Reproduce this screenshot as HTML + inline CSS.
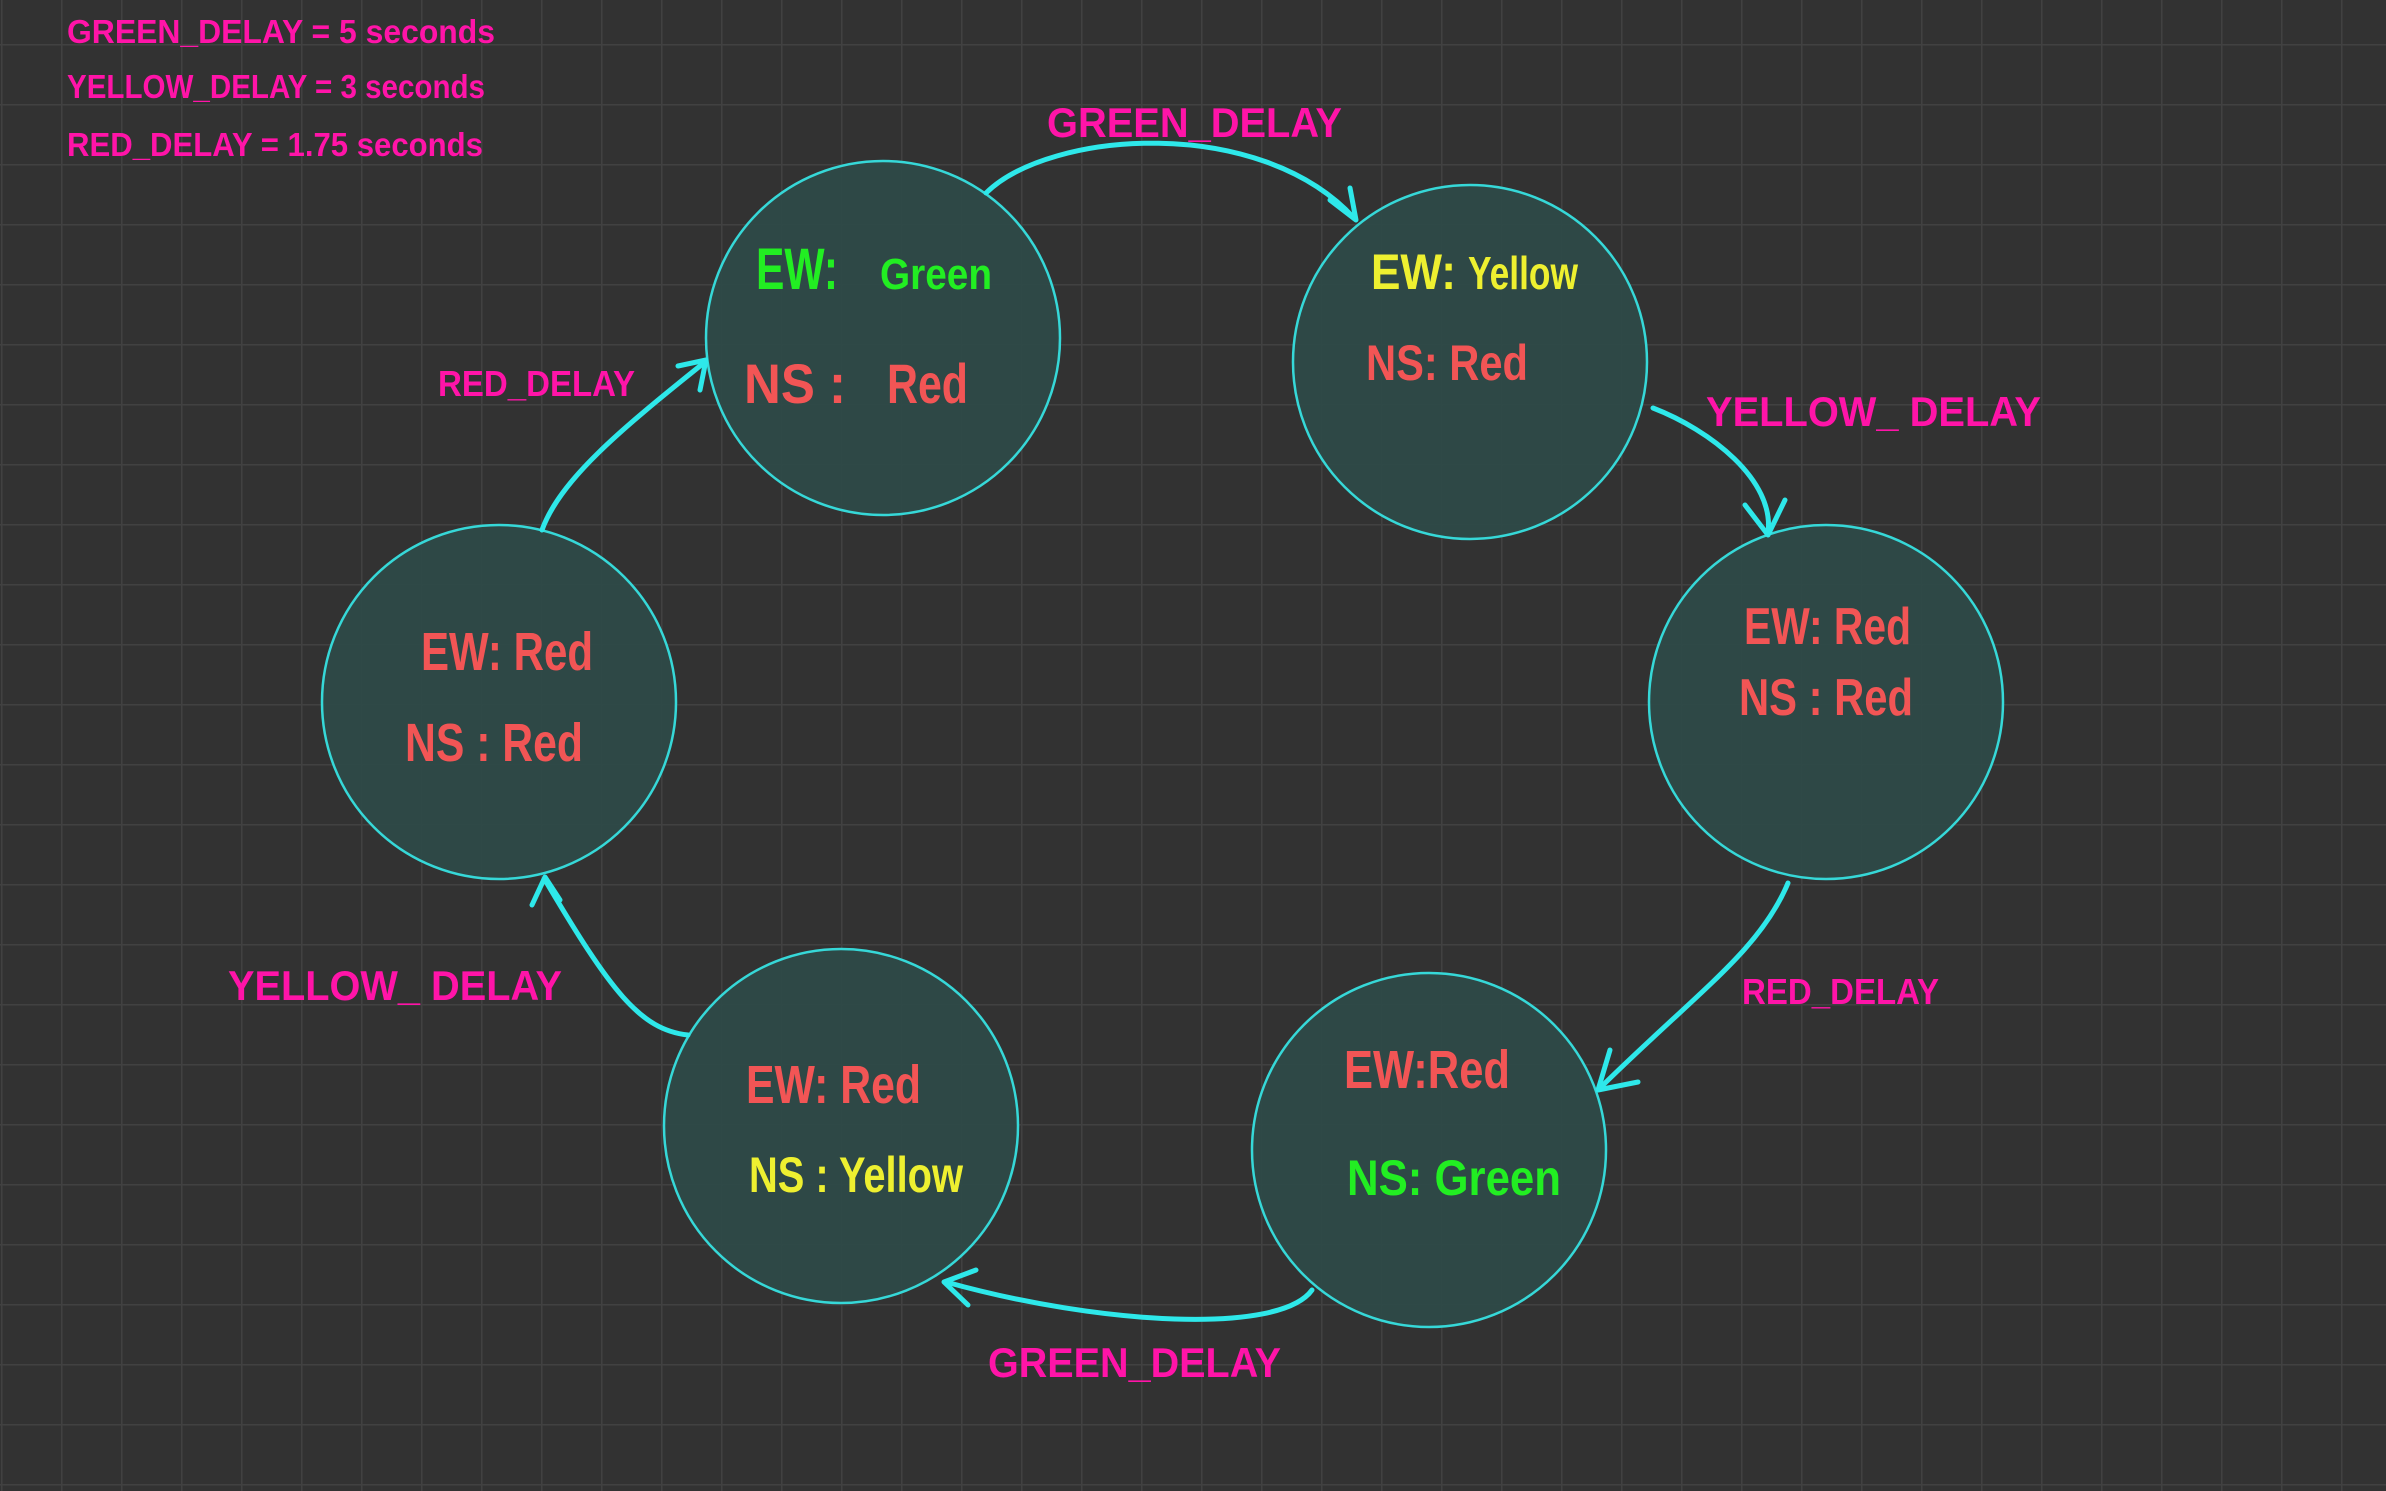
<!DOCTYPE html>
<html><head><meta charset="utf-8"><style>
html,body{margin:0;padding:0;background:#323232;}
svg{display:block;}
text{font-family:"Liberation Sans",sans-serif;font-weight:bold;}
</style></head><body>
<svg width="2386" height="1491" viewBox="0 0 2386 1491" xmlns="http://www.w3.org/2000/svg">
<defs>
<pattern id="g" x="1" y="44" width="60" height="60" patternUnits="userSpaceOnUse">
<path d="M0 0H60M0 0V60" stroke="#414141" stroke-width="3" fill="none"/>
</pattern>
</defs>
<rect width="2386" height="1491" fill="#323232"/>
<rect width="2386" height="1491" fill="url(#g)"/>

<g fill="#ff14a8" font-size="33">
<text x="67" y="43" textLength="428" lengthAdjust="spacingAndGlyphs">GREEN_DELAY  =  5  seconds</text>
<text x="67" y="98" textLength="418" lengthAdjust="spacingAndGlyphs">YELLOW_DELAY  =  3  seconds</text>
<text x="67" y="156" textLength="416" lengthAdjust="spacingAndGlyphs">RED_DELAY  =  1.75  seconds</text>
</g>

<g fill="#2e4a48" fill-opacity="0.9" stroke="#36d8d8" stroke-width="2.5">
<circle cx="883" cy="338" r="177"/>
<circle cx="1470" cy="362" r="177"/>
<circle cx="1826" cy="702" r="177"/>
<circle cx="1429" cy="1150" r="177"/>
<circle cx="841" cy="1126" r="177"/>
<circle cx="499" cy="702" r="177"/>
</g>

<g fill="none" stroke="#2ee8ea" stroke-width="5" stroke-linecap="round" stroke-linejoin="round">
<path d="M986 193 C1050 130 1260 115 1354 218"/>
<path d="M1330 200 L1356 220 L1350 188"/>
<path d="M1653 408 C1710 430 1775 480 1768 533"/>
<path d="M1745 505 L1768 535 L1785 500"/>
<path d="M1788 883 C1760 950 1700 990 1601 1087"/>
<path d="M1610 1050 L1598 1090 L1638 1082"/>
<path d="M1312 1290 C1280 1335 1100 1325 946 1282"/>
<path d="M968 1305 L944 1282 L976 1270"/>
<path d="M688 1035 C640 1030 610 990 545 880"/>
<path d="M532 905 L545 877 L560 900"/>
<path d="M542 530 C560 480 620 430 705 362"/>
<path d="M678 366 L706 360 L700 390"/>
</g>

<g fill="#ff14a8" font-size="42" font-weight="normal">
<text x="1047" y="137" textLength="295" lengthAdjust="spacingAndGlyphs">GREEN_DELAY</text>
<text x="1706" y="426" textLength="335" lengthAdjust="spacingAndGlyphs">YELLOW_ DELAY</text>
<text x="438" y="396" font-size="36" textLength="197" lengthAdjust="spacingAndGlyphs">RED_DELAY</text>
<text x="1742" y="1004" font-size="36" textLength="197" lengthAdjust="spacingAndGlyphs">RED_DELAY</text>
<text x="228" y="1000" textLength="334" lengthAdjust="spacingAndGlyphs">YELLOW_ DELAY</text>
<text x="988" y="1377" textLength="293" lengthAdjust="spacingAndGlyphs">GREEN_DELAY</text>
</g>

<g font-weight="normal">
<!-- C1 -->
<text x="756" y="289" font-size="58" fill="#22ee22" textLength="82" lengthAdjust="spacingAndGlyphs">EW:</text>
<text x="880" y="289" font-size="44" fill="#22ee22" textLength="112" lengthAdjust="spacingAndGlyphs">Green</text>
<text x="744" y="403" font-size="56" fill="#f25555" textLength="102" lengthAdjust="spacingAndGlyphs">NS :</text>
<text x="887" y="403" font-size="56" fill="#f25555" textLength="81" lengthAdjust="spacingAndGlyphs">Red</text>
<!-- C2 -->
<text x="1371" y="289" font-size="50" fill="#eef030" textLength="85" lengthAdjust="spacingAndGlyphs">EW:</text>
<text x="1468" y="289" font-size="46" fill="#eef030" textLength="110" lengthAdjust="spacingAndGlyphs">Yellow</text>
<text x="1366" y="380" font-size="50" fill="#f25555" textLength="162" lengthAdjust="spacingAndGlyphs">NS: Red</text>
<!-- C3 -->
<text x="1744" y="644" font-size="52" fill="#f25555" textLength="167" lengthAdjust="spacingAndGlyphs">EW: Red</text>
<text x="1739" y="715" font-size="52" fill="#f25555" textLength="174" lengthAdjust="spacingAndGlyphs">NS :  Red</text>
<!-- C4 -->
<text x="1344" y="1088" font-size="54" fill="#f25555" textLength="166" lengthAdjust="spacingAndGlyphs">EW:Red</text>
<text x="1347" y="1195" font-size="50" fill="#22ee22" textLength="214" lengthAdjust="spacingAndGlyphs">NS:  Green</text>
<!-- C5 -->
<text x="746" y="1103" font-size="54" fill="#f25555" textLength="175" lengthAdjust="spacingAndGlyphs">EW: Red</text>
<text x="749" y="1192" font-size="50" fill="#eef030" textLength="214" lengthAdjust="spacingAndGlyphs">NS : Yellow</text>
<!-- C6 -->
<text x="421" y="670" font-size="54" fill="#f25555" textLength="172" lengthAdjust="spacingAndGlyphs">EW: Red</text>
<text x="405" y="761" font-size="54" fill="#f25555" textLength="178" lengthAdjust="spacingAndGlyphs">NS : Red</text>
</g>
</svg>
</body></html>
